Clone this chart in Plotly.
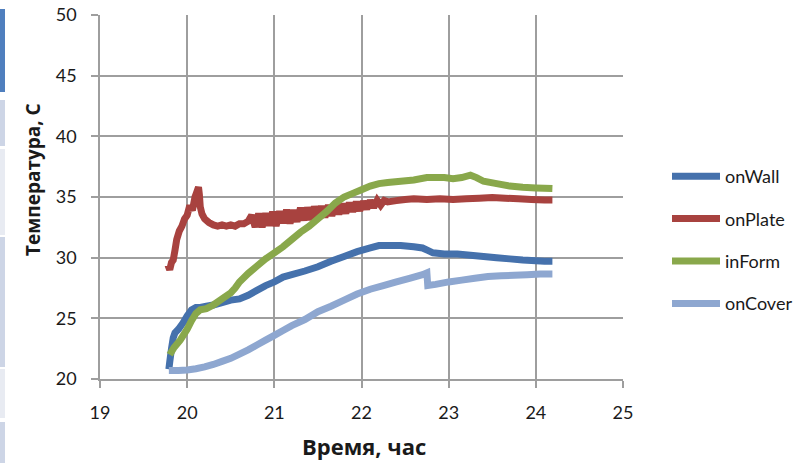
import plotly.graph_objects as go

# --- data: time (hours) and temperature (deg C) for each sensor ---
wall_t = [19.79, 19.80, 19.82, 19.84, 19.86, 19.90, 19.95, 20.00, 20.05, 20.10,
          20.15, 20.22, 20.30, 20.40, 20.50, 20.60, 20.70, 20.80, 20.90, 21.00,
          21.10, 21.20, 21.35, 21.50, 21.65, 21.80, 21.95, 22.10, 22.20, 22.30,
          22.45, 22.60, 22.70, 22.76, 22.82, 22.95, 23.10, 23.25, 23.40, 23.55,
          23.70, 23.85, 24.00, 24.10, 24.19]
wall_T = [20.8, 21.4, 22.5, 23.4, 23.8, 24.1, 24.6, 25.2, 25.7, 25.9,
          25.9, 26.0, 26.1, 26.3, 26.5, 26.6, 26.9, 27.3, 27.7, 28.0,
          28.4, 28.6, 28.9, 29.25, 29.7, 30.1, 30.5, 30.8, 31.0, 31.0,
          31.0, 30.9, 30.8, 30.6, 30.4, 30.3, 30.3, 30.2, 30.1, 30.0,
          29.9, 29.8, 29.75, 29.7, 29.7]

plate_t = [19.78, 19.80, 19.82, 19.84, 19.86, 19.88, 19.91, 19.94, 19.97, 20.00,
           20.03, 20.06, 20.09, 20.11, 20.13, 20.14, 20.15, 20.17, 20.20, 20.25,
           20.30, 20.35, 20.40, 20.45, 20.50, 20.55, 20.60, 20.65,
           20.70, 20.74, 20.78, 20.82, 20.86, 20.90, 20.94, 20.98, 21.02, 21.06,
           21.10, 21.14, 21.18, 21.22, 21.26, 21.30, 21.34, 21.38, 21.42, 21.46,
           21.50, 21.54, 21.58, 21.62, 21.66, 21.70, 21.74, 21.78, 21.82, 21.86,
           21.90, 21.94, 21.98, 22.02, 22.06, 22.10, 22.14, 22.18, 22.22, 22.26,
           22.30, 22.40, 22.50, 22.60, 22.75, 22.90, 23.05, 23.20, 23.35, 23.50,
           23.65, 23.80, 23.95, 24.10, 24.19]
plate_T = [29.4, 29.0, 29.6, 29.8, 30.6, 31.5, 32.2, 32.6, 33.2, 33.5,
           34.3, 33.9, 35.0, 35.4, 35.8, 35.2, 34.2, 33.6, 33.2, 32.9,
           32.7, 32.6, 32.7, 32.6, 32.7, 32.6, 32.8, 32.8,
           33.0, 33.49, 32.53, 33.62, 32.51, 33.65, 32.64, 33.78, 32.62, 33.81,
           32.85, 33.94, 32.83, 33.92, 32.96, 34.10, 33.09, 34.13, 33.12, 34.21,
           33.30, 34.24, 33.33, 34.32, 33.46, 34.40, 33.59, 34.43, 33.67, 34.51,
           33.80, 34.59, 33.88, 34.62, 34.01, 34.70, 34.14, 34.73, 34.32, 34.71,
           34.6, 34.7, 34.8, 34.85, 34.8, 34.85, 34.8, 34.85, 34.9, 34.95,
           34.9, 34.85, 34.8, 34.75, 34.75]

form_t = [19.80, 19.85, 19.92, 20.00, 20.05, 20.10, 20.15, 20.22, 20.30, 20.40,
          20.50, 20.55, 20.60, 20.70, 20.80, 20.90, 21.00, 21.10, 21.20, 21.30,
          21.40, 21.50, 21.60, 21.70, 21.80, 21.90, 22.00, 22.10, 22.20, 22.30,
          22.45, 22.60, 22.75, 22.85, 22.95, 23.05, 23.15, 23.25, 23.32, 23.40,
          23.55, 23.70, 23.85, 24.00, 24.19]
form_T = [22.0, 22.6, 23.2, 24.1, 24.8, 25.4, 25.7, 25.8, 26.1, 26.6,
          27.1, 27.5, 28.0, 28.7, 29.3, 29.9, 30.4, 30.9, 31.5, 32.1,
          32.6, 33.2, 33.8, 34.5, 35.0, 35.3, 35.6, 35.9, 36.1, 36.2,
          36.3, 36.4, 36.6, 36.6, 36.6, 36.5, 36.6, 36.8, 36.6, 36.3,
          36.1, 35.9, 35.8, 35.75, 35.7]

cover_t = [19.79, 19.90, 20.00, 20.10, 20.20, 20.30, 20.40, 20.50, 20.60, 20.70,
           20.80, 20.90, 21.00, 21.10, 21.20, 21.35, 21.50, 21.65, 21.80, 21.95,
           22.10, 22.25, 22.40, 22.55, 22.70, 22.75, 22.76, 22.85, 23.00, 23.15,
           23.30, 23.45, 23.60, 23.75, 23.90, 24.05, 24.19]
cover_T = [20.7, 20.7, 20.75, 20.85, 21.0, 21.2, 21.45, 21.7, 22.05, 22.4,
           22.8, 23.2, 23.6, 24.0, 24.4, 24.9, 25.55, 26.0, 26.5, 27.0,
           27.4, 27.7, 28.0, 28.3, 28.6, 28.75, 27.7, 27.8, 28.0, 28.15,
           28.3, 28.45, 28.5, 28.55, 28.6, 28.65, 28.65]

series_names = ["onWall", "onPlate", "inForm", "onCover"]
series_colors = ["#4571AC", "#A8423F", "#89A84B", "#8EA7D0"]

x_ticks = [19, 20, 21, 22, 23, 24, 25]
y_ticks = [20, 25, 30, 35, 40, 45, 50]

W, H = 805, 463
L, R, T, B = 100, 182, 15, 84
pw, ph = W - L - R, H - T - B


def px_x(px):
    return (px - L) / pw


def px_y(py):
    return (H - B - py) / ph


fig = go.Figure()
for name, tx, ty, col in zip(series_names,
                             [wall_t, plate_t, form_t, cover_t],
                             [wall_T, plate_T, form_T, cover_T],
                             series_colors):
    fig.add_trace(go.Scatter(x=tx, y=ty, mode="lines", name=name, legendgroup=name,
                             line=dict(color=col, width=7, simplify=False)))

grid_col = "#9E9E9E"
tick_font = dict(family="Lato, Open Sans, sans-serif", size=18, color="#1a1a1a")

common = dict(showgrid=True, gridcolor=grid_col, gridwidth=1.6,
              showline=True, linecolor=grid_col, linewidth=1.6,
              ticks="outside", ticklen=7, tickcolor=grid_col, tickwidth=1.6,
              tickfont=tick_font, zeroline=False, fixedrange=True, automargin=False)
fig.update_xaxes(range=[19, 25], tickvals=x_ticks, ticktext=[str(v) for v in x_ticks],
                 ticklabelstandoff=10, **common)
fig.update_yaxes(range=[20, 50], tickvals=y_ticks, ticktext=[str(v) for v in y_ticks],
                 ticklabelstandoff=11, **common)

# decorative strip on the far left edge
strip = [(9, 92, "#4F7FBE"), (100, 146, "#CDD5E6"), (149, 235, "#E8EBF2"),
         (237, 367, "#CDD5E6"), (369, 418, "#E8EBF2"), (422, 463, "#CDD5E6")]
shapes = []
for y0, y1, c in strip:
    shapes.append(dict(type="rect", xref="paper", yref="paper",
                       x0=px_x(0), x1=px_x(5), y0=px_y(y1), y1=px_y(y0),
                       fillcolor=c, line=dict(width=0), layer="below"))

annotations = [
    dict(text="<b>Температура, С</b>", xref="paper", yref="paper",
         x=px_x(33), y=px_y(180), textangle=-90, showarrow=False,
         font=dict(family="Open Sans, Noto Sans, sans-serif", size=19, color="#1a1a1a"),
         xanchor="center", yanchor="middle"),
    dict(text="<b>Время, час</b>", xref="paper", yref="paper",
         x=px_x(364), y=px_y(446), showarrow=False,
         font=dict(family="Open Sans, Noto Sans, sans-serif", size=22, color="#1a1a1a"),
         xanchor="center", yanchor="middle"),
]

fig.update_layout(
    width=W, height=H,
    margin=dict(l=L, r=R, t=T, b=B, pad=0, autoexpand=False),
    paper_bgcolor="white", plot_bgcolor="white",
    showlegend=True,
    legend=dict(x=px_x(667), y=px_y(158), xanchor="left", yanchor="top",
                bgcolor="rgba(0,0,0,0)", borderwidth=0,
                font=dict(family="Lato, Open Sans, sans-serif", size=18, color="#1a1a1a"),
                itemwidth=48, tracegroupgap=16),
    shapes=shapes,
    annotations=annotations,
)

fig.write_html("out.html")
